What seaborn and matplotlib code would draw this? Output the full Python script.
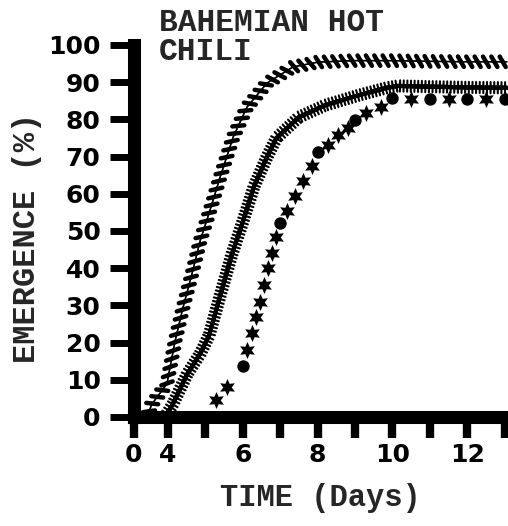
import matplotlib
matplotlib.use("Agg")
import matplotlib.pyplot as plt
import matplotlib.patheffects as pe
import seaborn as sns

# ---- data ----
hatch_days = [3.45, 3.57, 3.97, 4.19, 4.40, 4.64, 4.86, 5.12, 5.39, 5.74, 6.11, 6.65, 7.34, 8.01, 8.95, 10.0, 11.0, 12.0, 13.06]
hatch_vals = [0.5, 3.5, 8.9, 20.5, 29.4, 38.5, 47.4, 55.5, 64.4, 75.2, 83.3, 89.8, 94.1, 95.4, 95.8, 95.8, 95.6, 95.5, 95.5]

comb_days = [3.95, 4.13, 4.51, 4.86, 5.10, 5.39, 5.70, 6.00, 6.30, 6.65, 6.90, 7.50, 8.20, 9.10, 9.85, 10.15, 11.0, 12.0, 13.06]
comb_vals = [0.5, 3.5, 11.5, 17.0, 22.0, 32.5, 43.5, 52.5, 62.0, 70.0, 75.0, 80.6, 83.8, 86.5, 88.5, 89.0, 88.8, 88.6, 88.5]

star_days = [5.28, 5.58, 6.10, 6.25, 6.36, 6.45, 6.56, 6.67, 6.78, 6.90, 7.18, 7.40, 7.62, 7.85, 8.28, 8.55, 8.80, 9.30, 9.70, 10.50, 11.50, 12.50]
star_vals = [4.5, 8.0, 18.0, 22.5, 26.8, 31.0, 35.4, 40.0, 44.0, 48.3, 55.5, 59.5, 63.5, 67.5, 73.0, 75.7, 77.8, 81.7, 83.2, 85.5, 85.5, 85.5]

circ_days = [6, 7, 8, 9, 10, 11, 12, 13]
circ_vals = [13.7, 52.2, 71.2, 79.8, 85.8, 85.5, 85.5, 85.5]

xtick_pos = [3.09, 4, 5, 6, 7, 8, 9, 10, 11, 12, 13]
xtick_lab = ["0", "4", "", "6", "", "8", "", "10", "", "12", ""]
ytick_pos = [0, 10, 20, 30, 40, 50, 60, 70, 80, 90, 100]

title_txt = "BAHEMIAN HOT\nCHILI"
xlabel_txt = "TIME (Days)"
ylabel_txt = "EMERGENCE (%)"

# ---- figure ----
sns.set_style("ticks")
plt.rcParams["font.family"] = ["DejaVu Sans"]
W, H = 508, 526
fig = plt.figure(figsize=(W / 100, H / 100), dpi=100)
fig.patch.set_facecolor("white")
axl, axb, axt = 134 / W, (H - 417) / H, (H - 45) / H
ax = fig.add_axes([axl, axb, 1 - axl, axt - axb])
ax.set_facecolor("white")

# hatched series (slanted strokes)
sns.lineplot(x=hatch_days, y=hatch_vals, ax=ax, color="black", lw=1)
l1 = ax.lines[-1]
l1.set_path_effects([
    pe.withTickedStroke(angle=120, spacing=6.0, length=0.72, linewidth=3.2, foreground="black"),
    pe.withTickedStroke(angle=-60, spacing=6.0, length=0.72, linewidth=3.2, foreground="black"),
])

# comb series (perpendicular ticks)
sns.lineplot(x=comb_days, y=comb_vals, ax=ax, color="black", lw=3.0)
l2 = ax.lines[-1]
l2.set_path_effects([
    pe.Normal(),
    pe.withTickedStroke(angle=90, spacing=2.6, length=1.55, linewidth=1.5, foreground="black"),
    pe.withTickedStroke(angle=-90, spacing=2.6, length=1.55, linewidth=1.5, foreground="black"),
])

# star series with circles at the daily points
sns.scatterplot(x=star_days, y=star_vals, ax=ax, marker=(6, 1, 0), s=150, color="black", linewidth=0)
sns.scatterplot(x=circ_days, y=circ_vals, ax=ax, marker="o", s=80, color="black", linewidth=0)

ax.set_xlim(3.09, 3.09 + (W - 134) / 37.4)
ax.set_ylim(0, 100)
ax.set_xticks(xtick_pos)
ax.set_xticklabels(xtick_lab)
ax.set_yticks(ytick_pos)
ax.set_yticklabels([str(v) for v in ytick_pos])
ax.set_xlabel("")
ax.set_ylabel("")

for s in ["top", "right"]:
    ax.spines[s].set_visible(False)
for s in ["left", "bottom"]:
    ax.spines[s].set_linewidth(9.4)
    ax.spines[s].set_color("black")

ax.tick_params(axis="y", direction="out", length=17, width=5, color="black", pad=7,
               labelsize=18, labelcolor="black")
ax.tick_params(axis="x", direction="out", length=15, width=6, color="black", pad=4,
               labelsize=18, labelcolor="black")
for lab in ax.get_xticklabels() + ax.get_yticklabels():
    lab.set_fontweight("bold")

mono = ["Liberation Mono", "DejaVu Sans Mono"]
fig.text(159 / W, 1 - 8 / H, title_txt, family=mono, fontweight="bold", fontsize=22.5,
         ha="left", va="top", linespacing=0.97)
fig.text(320 / W, 1 - 498 / H, xlabel_txt, family=mono, fontweight="bold", fontsize=22,
         ha="center", va="center")
fig.text(27 / W, 1 - 238 / H, ylabel_txt, family=mono, fontweight="bold", fontsize=23,
         ha="center", va="center", rotation=90)

fig.savefig("out.png", dpi=100, facecolor="white")
